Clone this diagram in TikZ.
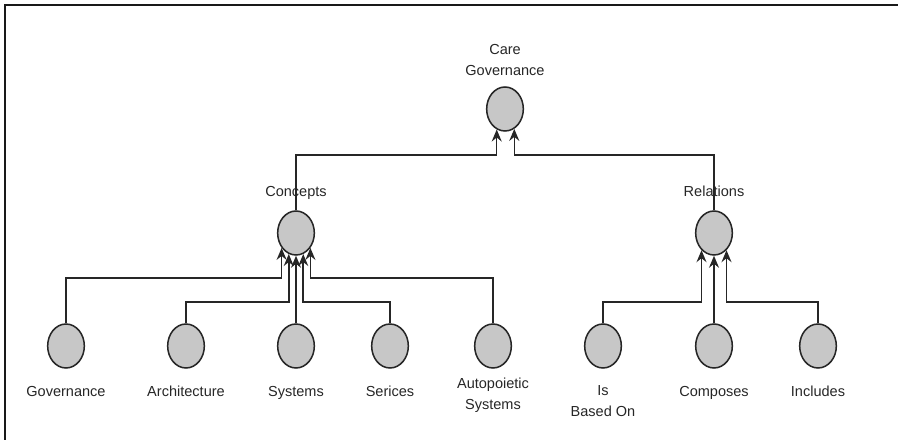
\documentclass[tikz,border=0pt]{standalone}
\usepackage{fontspec}
\setmainfont{Liberation Sans}
\usetikzlibrary{arrows.meta, positioning, shapes.geometric}

\tikzset{
  item/.style={ellipse, draw=black!85, line width=1.3pt, fill=black!22,
               minimum width=1.1cm, minimum height=1.32cm, inner sep=0pt},
  itemtext/.style={inner sep=0pt, align=center, text=black!85,
                   font=\fontsize{12.4}{17.9}\selectfont},
  link/.style={-{Stealth[length=3.6mm, width=3mm, inset=1.2mm]}, line width=1.3pt, draw=black!85},
}

\begin{document}
\begin{tikzpicture}

\useasboundingbox (0,0) rectangle (26.94,13.2);

% frame
\draw[line width=1.7pt, black!90] (0.15,0) -- (0.15,13.05) -- (26.94,13.05);

% -----------------------------------------------------
%  root and the two groups
% -----------------------------------------------------
\node[item] (root) at (15.15,9.93) {};
\node[itemtext, above=0.3cm of root] (rootlbl) {Care\\Governance};

\node[item] (con) at (8.88,6.21) {};
\node[itemtext, above=0.42cm of con, anchor=base] (conlbl) {Concepts};

\node[item] (rel) at (21.42,6.21) {};
\node[itemtext, above=0.42cm of rel, anchor=base] (rellbl) {Relations};

% -----------------------------------------------------
%  leaves
% -----------------------------------------------------
\foreach \x/\n/\d/\t in {1.98/gov/0.51/Governance,
                         5.58/arc/0.51/Architecture,
                         8.88/sys/0.51/Systems,
                         11.7/ser/0.51/Serices,
                         14.79/aut/0.27/{Autopoietic\\Systems},
                         18.09/isb/0.51/{Is\\Based On},
                         21.42/cmp/0.51/Composes,
                         24.54/inc/0.51/Includes}{
  \node[item] (\n) at (\x,2.82) {};
  \node[itemtext, below=\d cm of \n] (\n lbl) {\t};
}

% Concepts links
\draw[link] (gov.north) -- ++(0,1.36) -| (con.226);
\draw[link] (arc.north) -- ++(0,0.64) -| (con.251);
\draw[link] (sys.north) -- (con.south);
\draw[link] (ser.north) -- ++(0,0.64) -| (con.289);
\draw[link] (aut.north) -- ++(0,1.36) -| (con.314);

% Relations links
\draw[link] (isb.north) -- ++(0,0.64) -| (rel.234);
\draw[link] (cmp.north) -- (rel.south);
\draw[link] (inc.north) -- ++(0,0.64) -| (rel.306);

% up to the root
\draw[link] (con.north) -- ++(0,1.66) -| (root.248);
\draw[link] (rel.north) -- ++(0,1.66) -| (root.295);

\end{tikzpicture}
\end{document}
